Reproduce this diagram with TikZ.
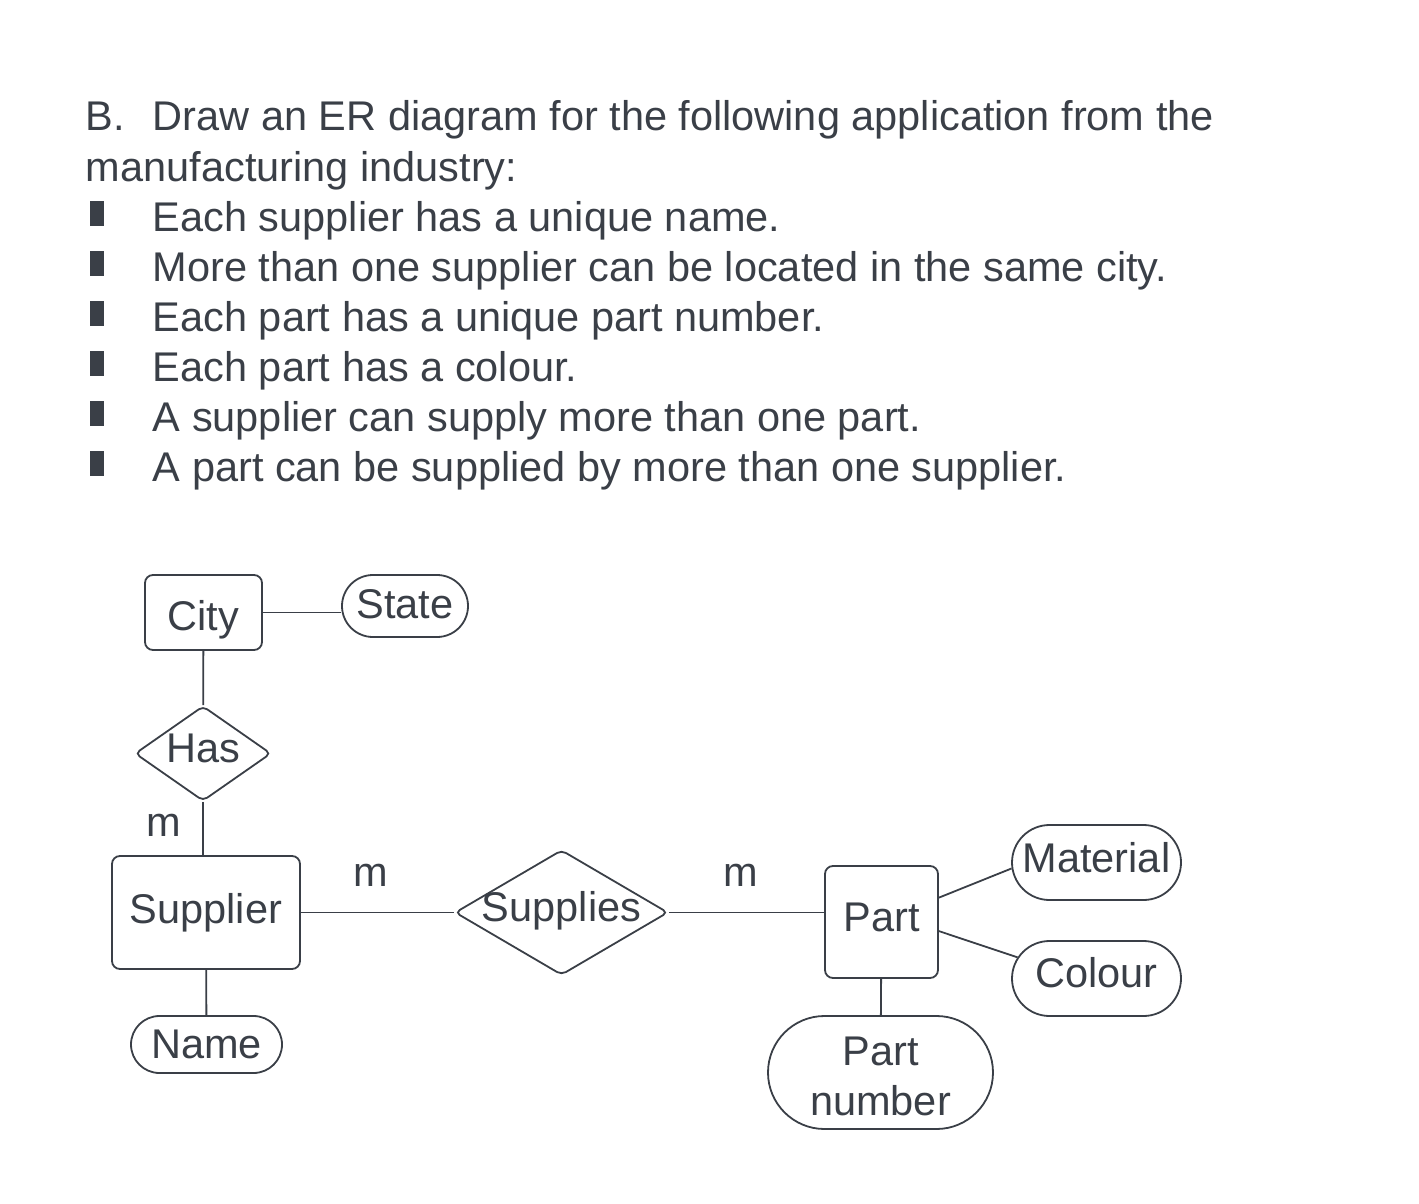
\documentclass[tikz,border=0pt]{standalone}
\usepackage{fontspec}
\setmainfont{Liberation Sans}
\usetikzlibrary{shapes.geometric,shapes.misc}

\definecolor{ink}{RGB}{58,63,71}
\newcommand{\txtup}[2]{\raisebox{#1}[\height][\depth]{#2}}

\tikzset{
  erbase/.style = {align=center, inner sep=0pt, text centered, draw=ink, text=ink,
    line width=1.8pt, font=\fontsize{41.5}{50}\selectfont},
  er_ent/.style = {erbase, rectangle, rounded corners=8pt},% entity
  er_attr/.style = {erbase, rounded rectangle},% attribute
  er_rel/.style = {erbase, diamond, rounded corners=5pt},% relationship
  er_card/.style = {inner sep=0pt, text=ink, font=\fontsize{41.5}{50}\selectfont},% cardinality
  txtline/.style = {anchor=base west, inner sep=0pt, text=ink, font=\fontsize{41.5}{50}\selectfont},
  bullet/.style = {anchor=south west, inner sep=0pt, fill=ink, minimum width=14pt, minimum height=25pt}
}

\begin{document}
\begin{tikzpicture}[x=1pt, y=-1pt, line width=1.8pt, draw=ink]
  \useasboundingbox (0,0) rectangle (1419,1204);

  % question
  \node [txtline] (qb) at (85,131) {B.};
  \node [txtline] (q1) at (152,131) {Draw an ER diagram for the following application from the};
  \node [txtline] (q2) at (85,181) {manufacturing industry:};
  \foreach \i/\t in {0/Each supplier has a unique name.,
      1/More than one supplier can be located in the same city.,
      2/Each part has a unique part number.,
      3/Each part has a colour.,
      4/A supplier can supply more than one part.,
      5/A part can be supplied by more than one supplier.} {
    \node [bullet] (bul\i) at (89,227+50*\i) {};
    \node [txtline] (req\i) at (152,231+50*\i) {\t};
  }

  % entities, attributes, relationships
  \node [er_ent, minimum width=117pt, minimum height=75pt] (city) at (203.5,612.5) {\txtup{-7pt}{City}};
  \node [er_attr, minimum width=126pt, minimum height=62pt] (state) at (405,606) {\txtup{2pt}{State}};
  \node [er_rel, minimum width=136pt, minimum height=95pt] (has) at (203,753.5) {\txtup{5pt}{\makebox[0pt]{Has}}};
  \node [er_ent, minimum width=188pt, minimum height=113pt] (supplier) at (206,912.5) {Supplier};
  \node [er_attr, minimum width=151pt, minimum height=57pt] (name) at (206.5,1044.5) {Name};
  \node [er_rel, minimum width=213pt, minimum height=125pt] (supplies) at (561.5,912.5) {\txtup{2pt}{\makebox[0pt]{Supplies}}};
  \node [er_ent, minimum width=113pt, minimum height=112pt] (part) at (881.5,922) {\txtup{5pt}{Part}};
  \node [er_attr, minimum width=169pt, minimum height=75pt] (material) at (1096.5,862.5) {\txtup{5pt}{Material}};
  \node [er_attr, minimum width=169pt, minimum height=75pt] (colour) at (1096.5,978.5) {\txtup{6pt}{Colour}};
  \node [er_attr, minimum width=225pt, minimum height=113pt] (partno) at (880.5,1072.5) {\txtup{-4pt}{Part}\\\txtup{-4pt}{number}};

  % cardinalities
  \node [er_card] (m1) at (164,825) {m};
  \node [er_card] (m2) at (371,875) {m};
  \node [er_card] (m3) at (741,875) {m};

  % connectors
  \draw [ink] (city.east) -- (city.east -| state.west);
  \draw [ink] (city) -- (has);
  \draw [ink] (has.south) -- (has.south |- supplier.north);
  \draw [ink] (supplier) -- (name);
  \draw [ink] (supplier) -- (supplies);
  \draw [ink] (supplies.east) -- (supplies.east -| part.west);
  \draw [ink] (part.23) -- (material.184);
  \draw [ink] (part.-9) -- (colour.165);
  \draw [ink] (part) -- (partno);
\end{tikzpicture}
\end{document}
